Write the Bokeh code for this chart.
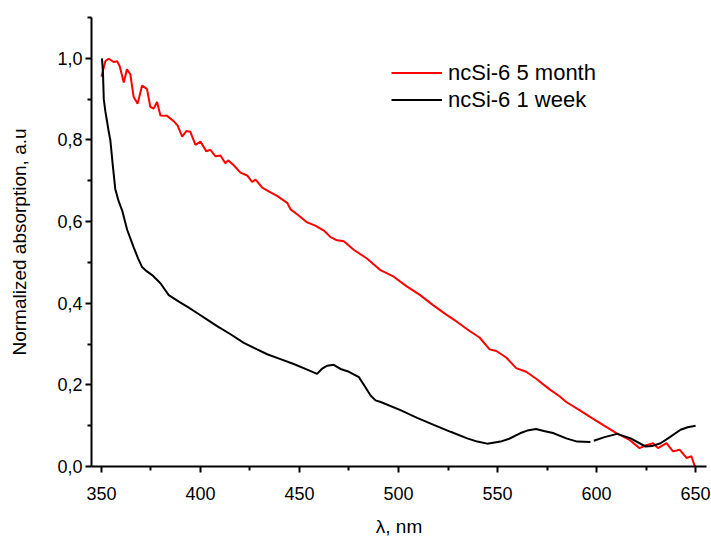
from bokeh.plotting import figure
from bokeh.models import Range1d, FixedTicker, CustomJSTickFormatter, Legend, LegendItem
from bokeh.embed import file_html
from bokeh.resources import INLINE

nan = float("nan")

# ncSi-6 5 month (red)
red_x = [350.0, 352.0, 353.7, 356.2, 357.9, 359.2, 361.3, 362.9, 364.6, 366.3, 368.3, 370.5,
         373.0, 374.7, 376.4, 378.1, 379.8, 383.2, 386.5, 388.5, 390.8, 392.9, 394.9, 397.5,
         400.0, 403.0, 405.0, 407.6, 410.1, 412.6, 414.0, 416.8, 420.2, 423.6, 426.1, 427.8,
         431.2, 434.5, 438.7, 443.8, 445.5, 448.8, 453.9, 458.0, 462.3, 465.7, 469.0, 472.4,
         477.4, 484.2, 490.9, 497.6, 504.0, 510.6, 517.3, 524.1, 529.1, 535.9, 540.9, 546.0,
         549.4, 554.4, 559.4, 564.5, 569.5, 576.3, 581.3, 584.7, 591.4, 596.5, 603.2, 610.0,
         616.7, 621.7, 625.0, 628.5, 631.0, 635.3, 638.6, 642.0, 645.4, 647.9, 649.4, 650.0]
red_y = [0.955, 0.993, 0.999, 0.991, 0.993, 0.981, 0.941, 0.973, 0.961, 0.905, 0.889, 0.933,
         0.925, 0.881, 0.877, 0.893, 0.860, 0.859, 0.846, 0.835, 0.808, 0.822, 0.820, 0.788,
         0.796, 0.772, 0.776, 0.760, 0.762, 0.743, 0.750, 0.738, 0.720, 0.713, 0.697, 0.703,
         0.683, 0.674, 0.663, 0.646, 0.630, 0.618, 0.598, 0.590, 0.578, 0.562, 0.554, 0.552,
         0.531, 0.509, 0.481, 0.465, 0.442, 0.421, 0.396, 0.372, 0.356, 0.332, 0.316, 0.287,
         0.283, 0.267, 0.241, 0.232, 0.215, 0.189, 0.172, 0.158, 0.138, 0.122, 0.102, 0.082,
         0.065, 0.045, 0.052, 0.057, 0.045, 0.057, 0.037, 0.041, 0.021, 0.025, 0.003, 0.0]

# ncSi-6 1 week (black)
black_x = [350.3, 350.8, 351.2, 352.0, 352.9, 353.7, 354.5, 355.7, 357.0, 358.7, 360.5, 363.0,
           366.3, 368.5, 370.5, 373.0, 375.6, 379.8, 384.0, 389.1, 393.5, 398.3, 403.4, 408.4,
           415.2, 421.9, 428.6, 433.7, 440.4, 447.1, 453.0, 458.9, 461.5, 464.0, 467.3, 470.7,
           475.0, 480.0, 483.3, 485.9, 488.4, 491.0, 501.0, 509.4, 517.8, 526.3, 534.7, 539.8,
           544.8, 551.5, 555.9, 561.6, 565.0, 569.4, 573.4, 578.0, 584.7, 590.2, 596.9,
           nan, 598.6, 604.0, 610.4, 617.2, 624.7, 628.0, 632.3, 637.0, 642.4, 646.0, 650.0]
black_y = [1.0, 0.965, 0.90, 0.87, 0.844, 0.82, 0.80, 0.74, 0.68, 0.65, 0.627, 0.58,
           0.537, 0.510, 0.489, 0.478, 0.469, 0.449, 0.420, 0.404, 0.391, 0.376, 0.360, 0.344,
           0.324, 0.303, 0.287, 0.275, 0.263, 0.251, 0.239, 0.227, 0.240, 0.247, 0.249, 0.239,
           0.232, 0.219, 0.194, 0.174, 0.162, 0.158, 0.138, 0.119, 0.102, 0.085, 0.069, 0.061,
           0.056, 0.061, 0.068, 0.082, 0.088, 0.092, 0.087, 0.082, 0.069, 0.061, 0.060,
           nan, 0.063, 0.072, 0.080, 0.069, 0.049, 0.050, 0.057, 0.072, 0.090, 0.096, 0.100]

x_major = [350, 400, 450, 500, 550, 600, 650]
x_minor = [375, 425, 475, 525, 575, 625]
y_major = [0.0, 0.2, 0.4, 0.6, 0.8, 1.0]
y_minor = [0.1, 0.3, 0.5, 0.7, 0.9, 1.1]

FONT = "Liberation Sans"

p = figure(width=711, height=539, output_backend="svg", toolbar_location=None,
           x_range=Range1d(345, 655.5), y_range=Range1d(0, 1.1),
           min_border_left=91, min_border_right=5, min_border_top=17, min_border_bottom=67)
p.outline_line_color = None
p.xgrid.visible = False
p.ygrid.visible = False
p.background_fill_color = "white"
p.border_fill_color = "white"

r1 = p.line(red_x, red_y, line_color="#ff0000", line_width=2)
r2 = p.line(black_x, black_y, line_color="black", line_width=2)

for ax, major, minor in ((p.xaxis[0], x_major, x_minor), (p.yaxis[0], y_major, y_minor)):
    ax.ticker = FixedTicker(ticks=major, minor_ticks=minor)
    ax.axis_line_width = 2
    ax.axis_line_color = "black"
    ax.major_tick_line_width = 2
    ax.minor_tick_line_width = 2
    ax.major_tick_line_color = "black"
    ax.minor_tick_line_color = "black"
    ax.major_tick_in = 0
    ax.major_tick_out = 6
    ax.minor_tick_in = 0
    ax.minor_tick_out = 4
    ax.major_label_text_font = FONT
    ax.major_label_text_font_size = "18px"
    ax.major_label_text_color = "black"
    ax.axis_label_text_font = FONT
    ax.axis_label_text_font_size = "19px"
    ax.axis_label_text_font_style = "normal"
    ax.axis_label_text_color = "black"

p.xaxis[0].formatter = CustomJSTickFormatter(code="return tick.toFixed(0);")
p.yaxis[0].formatter = CustomJSTickFormatter(code="return tick.toFixed(1).replace('.', ',');")
p.xaxis[0].axis_label = "λ, nm"
p.yaxis[0].axis_label = "Normalized absorption, a.u"
p.xaxis[0].major_label_standoff = 14
p.yaxis[0].major_label_standoff = 3
p.xaxis[0].axis_label_standoff = 13
p.yaxis[0].axis_label_standoff = 24

legend = Legend(items=[LegendItem(label="ncSi-6 5 month", renderers=[r1]),
                       LegendItem(label="ncSi-6 1 week", renderers=[r2])],
                location=(300, 353))
legend.padding = 0
legend.margin = 0
legend.spacing = 0
legend.glyph_width = 51
legend.glyph_height = 27
legend.label_height = 27
legend.label_standoff = 6
legend.border_line_alpha = 0
legend.background_fill_alpha = 0
legend.label_text_font = FONT
legend.label_text_font_size = "22px"
legend.label_text_color = "black"
p.add_layout(legend, "center")

open("out.html", "w").write(file_html(p, INLINE))
